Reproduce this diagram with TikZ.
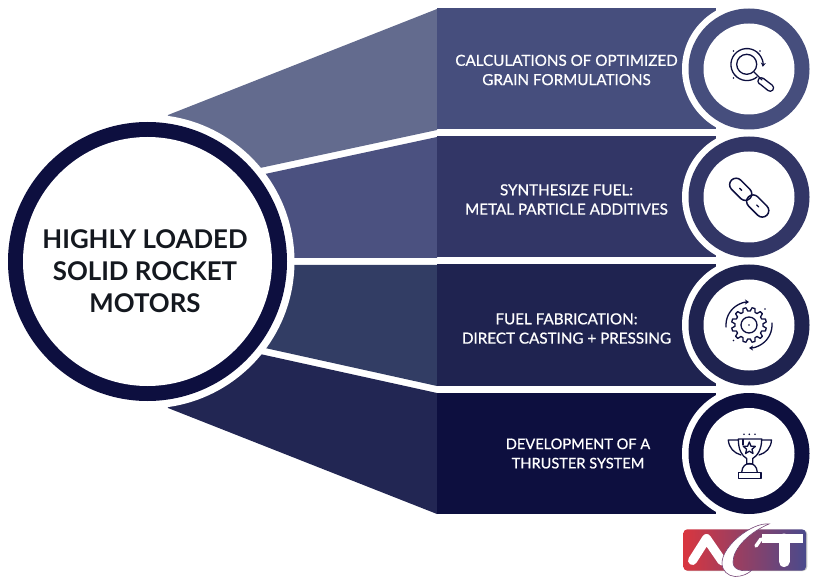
\documentclass[tikz,border=0pt]{standalone}
\usepackage{fontspec}
\setmainfont{Lato}
\newfontfamily\rowfont[FakeBold=0.8]{Lato}
\usetikzlibrary{arrows.meta}

\definecolor{rowa}{HTML}{464E7D}
\definecolor{rowb}{HTML}{323666}
\definecolor{rowc}{HTML}{1F2350}
\definecolor{rowd}{HTML}{0D0F3F}
\definecolor{wedgea}{HTML}{636B8E}
\definecolor{wedgeb}{HTML}{4B5180}
\definecolor{wedgec}{HTML}{323D64}
\definecolor{wedged}{HTML}{222653}
\definecolor{hubtext}{HTML}{14181F}
\definecolor{logored}{HTML}{D9363F}
\definecolor{logoblue}{HTML}{4A4A8C}

\tikzset{
  rowtext/.style={text=white, align=center, font=\fontsize{15.2}{19.3}\rowfont},
  hubtext/.style={text=hubtext, align=center, font=\fontsize{25.8}{32}\selectfont\bfseries},
  iconline/.style={draw=rowd, line width=1.3pt, line cap=round, line join=round, >={Stealth[length=4pt,width=5pt]}},
  logostroke/.style={white, line width=9pt, line cap=round, line join=round}
}

\begin{document}
\begin{tikzpicture}[x=1pt, y=-1pt]
    \useasboundingbox (0,0) rectangle (817,580);

    % Wedges, the hub halo covers their inner ends
    \fill[wedgea] (168,115) -- (437,9) -- (437,130) -- (260,168) -- (147,261) -- cycle;
    \fill[wedgeb] (265,174) -- (437,137) -- (437,258) -- (147,258) -- cycle;
    \fill[wedgec] (147,265) -- (437,265) -- (437,386) -- (265,348) -- cycle;
    \fill[wedged] (260,354) -- (437,393) -- (437,514) -- (168,408) -- (147,261) -- cycle;

    % Hub
    \fill[white] (147.5,261.5) circle (147);
    \fill[rowd] (147.5,261.5) circle (139.5);
    \fill[white] (147.5,261.5) circle (124.5);
    \node[hubtext] (hub) at (145,271) {HIGHLY LOADED\\SOLID ROCKET\\MOTORS};

    % Rows with their rings
    \foreach \ry/\rowcol in {69/rowa, 197/rowb, 325/rowc, 453.5/rowd} {
        \fill[\rowcol] (437,\ry-60.5) rectangle (716,\ry+60.5);
        \fill[white] (749,\ry) circle (67);
        \fill[\rowcol] (749,\ry) circle (60.5);
        \fill[white] (749,\ry) circle (45.5);
    }

    % Row labels
    \node[rowtext] (calc) at (566.5,70) {CALCULATIONS OF OPTIMIZED\\GRAIN FORMULATIONS};
    \node[rowtext] (synth) at (566.5,199.5) {SYNTHESIZE FUEL:\\METAL PARTICLE ADDITIVES};
    \node[rowtext] (fab) at (566.5,328.5) {FUEL FABRICATION:\\DIRECT CASTING + PRESSING};
    \node[rowtext,font=\fontsize{14.6}{19.3}\rowfont] (thrust) at (578,453.5) {DEVELOPMENT OF A\\THRUSTER SYSTEM};

    % Magnifier icon
    \draw[iconline] (746.7,64.3) circle (10);
    \draw[iconline,->] (757,77) arc[start angle=51, end angle=368, radius=16];
    \draw[iconline] (754,72) -- (762,80);
    \draw[iconline] (760,84) -- (768,90.5) arc[start angle=130, end angle=-50, radius=3.4] -- (763.5,78.5)
        arc[start angle=-50, end angle=-230, radius=3.4] -- cycle;
    \foreach \dx/\dy in {733.5/51, 760/51, 733.5/78}
        \fill[rowd] (\dx,\dy) circle (0.9);

    % Chain icon
    \foreach \cx/\cy in {740.7/189.3, 757.7/206} {
        \draw[iconline,line width=1.5pt,shift={(\cx,\cy)}] (45:6.5) ++(-45:6.5) arc[start angle=-45, end angle=135, radius=6.5]
            -- ++(225:13) arc[start angle=135, end angle=315, radius=6.5] -- cycle;
        \draw[iconline] (\cx-1,\cy-1) -- (\cx+1,\cy+1);
    }

    % Gear icon
    \draw[iconline,shift={(749,325)}] (5:14) \foreach \k in {0,...,11} {
        -- ({\k*30+5}:14) -- ({\k*30+10}:17.5) -- ({\k*30+20}:17.5) -- ({\k*30+25}:14)
        arc[start angle=\k*30+25, end angle=\k*30+35, radius=14]} -- cycle;
    \draw[iconline] (749,325) circle (8);
    \fill[rowd] (749,325) circle (0.9);
    \draw[iconline,->] (749,325) ++(175:23) arc[start angle=175, end angle=270, radius=23];
    \draw[iconline,->] (749,325) ++(-5:23) arc[start angle=-5, end angle=90, radius=23];
    \fill[rowd] (765,309) circle (0.9);
    \fill[rowd] (733.5,340.5) circle (0.9);

    % Trophy icon
    \draw[iconline] (738.3,439) -- (761.7,439) .. controls (761.7,450) and (757,456) .. (752.7,458.5)
        -- (752.7,464) -- (746.7,464) -- (746.7,458.5) .. controls (742,456) and (738.3,450) .. (738.3,439);
    \draw[iconline] (738.3,440) -- (728.3,440) .. controls (729,448) and (734,453) .. (741,455);
    \draw[iconline] (761.7,440) -- (771.5,440) .. controls (771,448) and (766,453) .. (759,455);
    \draw[iconline] (741.7,472.3) .. controls (742,466) and (746,463.5) .. (749.5,463.5) .. controls (753,463.5) and (757,466) .. (757.3,472.3);
    \draw[iconline] (738.3,472.3) rectangle (761,478.3);
    \draw[iconline] (749.3,442) -- (751,446.2) -- (755.3,446.4) -- (752,449.2) -- (753,453.5) -- (749.3,451.2)
        -- (745.6,453.5) -- (746.6,449.2) -- (743.3,446.4) -- (747.6,446.2) -- cycle;
    \draw[iconline] (743,439.5) -- (743,445);
    \foreach \dx in {744,749.3,755}
        \fill[rowd] (\dx,434.3) circle (0.9);

    % Logo
    \fill[gray!45,rounded corners=4pt] (684.3,530) rectangle (807.3,571);
    \shade[left color=logored, right color=logoblue, rounded corners=4pt] (683.3,529.3) rectangle (806,570.7);
    \draw[logostroke] (692.5,560.5) -- (706.5,538.5) -- (722,561);
    \draw[logostroke,line cap=butt] (762,538.5) -- (803,538.5);
    \draw[logostroke,line width=11pt] (784,539) -- (784,561.5);
    \draw[white,line width=3.5pt,line cap=round] (756,546) -- (761,539);
    \fill[white,draw=logoblue!70!logored,line width=0.6pt] (769,524) .. controls (752,522) and (722,546) .. (722,563)
        .. controls (722,571) and (728,576) .. (735,576.5)
        .. controls (742,576.5) and (748,574) .. (752,570)
        .. controls (742,572) and (733,570) .. (733,562)
        .. controls (733,548) and (750,532) .. (769,524) -- cycle;
\end{tikzpicture}
\end{document}
